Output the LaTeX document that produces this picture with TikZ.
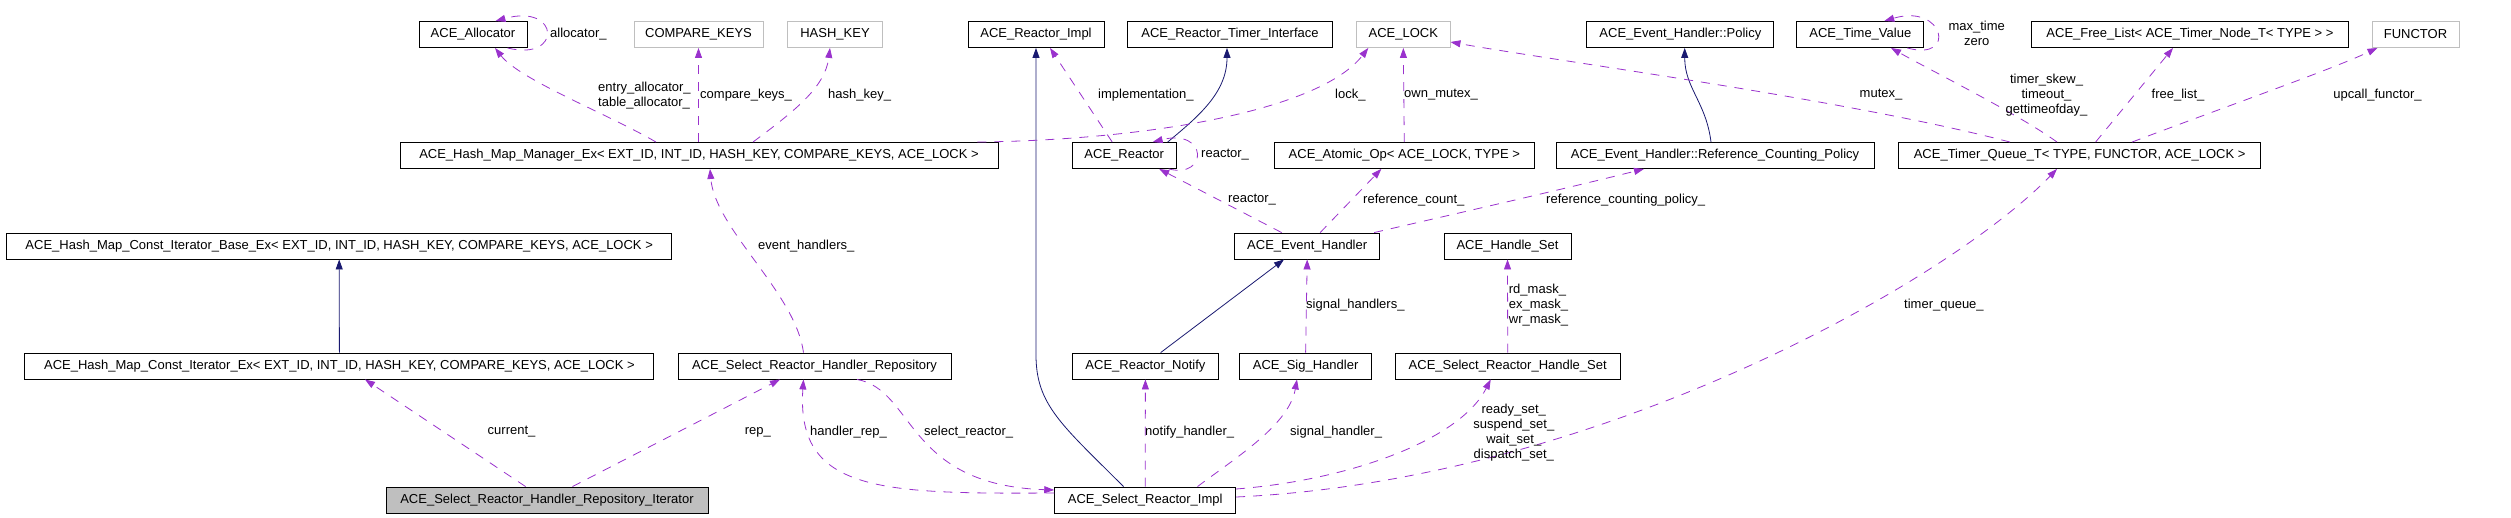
\documentclass[tikz,border=0pt]{standalone}
\usepackage{fontspec}
\setmainfont{Liberation Sans}
\usetikzlibrary{arrows.meta}
\definecolor{usecol}{HTML}{9A32CD}
\definecolor{inhcol}{HTML}{191970}
\definecolor{extcol}{HTML}{BFBFBF}
\tikzset{
	cls/.style={draw=black, line width=0.9pt, minimum height=26, inner sep=0pt, font=\fontsize{13}{15}\selectfont},
	ext/.style={cls, draw=extcol},
	cur/.style={cls, fill=extcol},
	usage/.style={draw=usecol, line width=0.8pt, dash pattern=on 9pt off 8pt, -{Triangle[length=10pt,width=7pt]}},
	inherit/.style={draw=inhcol, line width=0.8pt, -{Triangle[length=10pt,width=7pt]}},
	edgelbl/.style={inner sep=0pt, font=\fontsize{13}{15}\selectfont}
}

\begin{document}
\begin{tikzpicture}[x=1pt, y=-1pt]
			%%%%% START %%%%%
			\useasboundingbox (0,0) rectangle (2511,517);
			
			\node[cls, minimum width=108] (alloc) at (473,34.5) {ACE\_Allocator};
			\node[ext, minimum width=129] (cmpkeys) at (698.5,34.5) {COMPARE\_KEYS};
			\node[ext, minimum width=95] (hashkey) at (835,34.5) {HASH\_KEY};
			\node[cls, minimum width=136] (rimpl) at (1036,34.5) {ACE\_Reactor\_Impl};
			\node[cls, minimum width=205] (rtimer) at (1230,34.5) {ACE\_Reactor\_Timer\_Interface};
			\node[ext, minimum width=93.4] (lock) at (1403.3,34.5) {ACE\_LOCK};
			\node[cls, minimum width=187] (policy) at (1680.4,34.5) {ACE\_Event\_Handler::Policy};
			\node[cls, minimum width=127] (timeval) at (1860.3,34.5) {ACE\_Time\_Value};
			\node[cls, minimum width=316.5] (freelist) at (2190,34.5) {ACE\_Free\_List< ACE\_Timer\_Node\_T< TYPE > >};
			\node[ext, minimum width=87] (functor) at (2415.5,34.5) {FUNCTOR};
			
			\node[cls, minimum width=598] (hmm) at (699,155.5) {ACE\_Hash\_Map\_Manager\_Ex< EXT\_ID, INT\_ID, HASH\_KEY, COMPARE\_KEYS, ACE\_LOCK >};
			\node[cls, minimum width=104] (reactor) at (1124.2,155.5) {ACE\_Reactor};
			\node[cls, minimum width=259.5] (atomic) at (1404.3,155.5) {ACE\_Atomic\_Op< ACE\_LOCK, TYPE >};
			\node[cls, minimum width=318] (refpol) at (1715,155.5) {ACE\_Event\_Handler::Reference\_Counting\_Policy};
			\node[cls, minimum width=362] (tqueue) at (2079.6,155.5) {ACE\_Timer\_Queue\_T< TYPE, FUNCTOR, ACE\_LOCK >};
			
			\node[cls, minimum width=665] (itbase) at (339.2,246) {ACE\_Hash\_Map\_Const\_Iterator\_Base\_Ex< EXT\_ID, INT\_ID, HASH\_KEY, COMPARE\_KEYS, ACE\_LOCK >};
			\node[cls, minimum width=145] (evh) at (1307.2,246) {ACE\_Event\_Handler};
			\node[cls, minimum width=127] (hset) at (1507.5,246) {ACE\_Handle\_Set};
			
			\node[cls, minimum width=629] (itex) at (339.4,366) {ACE\_Hash\_Map\_Const\_Iterator\_Ex< EXT\_ID, INT\_ID, HASH\_KEY, COMPARE\_KEYS, ACE\_LOCK >};
			\node[cls, minimum width=273] (repo) at (814.5,366) {ACE\_Select\_Reactor\_Handler\_Repository};
			\node[cls, minimum width=146] (notify) at (1145.4,366) {ACE\_Reactor\_Notify};
			\node[cls, minimum width=131.6] (sig) at (1305.6,366) {ACE\_Sig\_Handler};
			\node[cls, minimum width=224.6] (shset) at (1507.7,366) {ACE\_Select\_Reactor\_Handle\_Set};
			
			\node[cur, minimum width=322] (iter) at (547,500) {ACE\_Select\_Reactor\_Handler\_Repository\_Iterator};
			\node[cls, minimum width=181] (impl) at (1145.2,500) {ACE\_Select\_Reactor\_Impl};
			
			\draw[inherit] (itex.north) -- (itbase.south);
			\draw[inherit] ([xshift=-21.7]impl.north) .. controls (1062,425) and (1036,405) .. (1036,355) -- (rimpl.south);
			\draw[inherit] ([xshift=-9]reactor.north east) .. controls +(30,-25) and +(0,45) .. ([xshift=-3]rtimer.south);
			\draw[inherit] ([xshift=15.3]notify.north) -- ([xshift=-23.2]evh.south);
			\draw[inherit] ([xshift=-4]refpol.north) .. controls +(-5,-40) and +(0,40) .. ([xshift=4.3]policy.south);
			
			\draw[usage] ([xshift=-21.4]iter.north) -- ([xshift=25.6]itex.south);
			\draw[usage] ([xshift=25.5]iter.north) -- ([xshift=-34.5]repo.south);
			\draw[usage] ([xshift=-11]repo.north) .. controls +(-8,-60) and +(5,60) .. ([xshift=11]hmm.south);
			\draw[usage] ([yshift=7]impl.west) .. controls (880,494) and (796,492) .. ([xshift=-11]repo.south);
			\draw[usage] ([xshift=42.5]repo.south) .. controls (915,390) and (905,485) .. ([yshift=10]impl.west);
			
			\draw[usage] ([xshift=-43]hmm.north) .. controls (610,115) and (520,80) .. ([xshift=22]alloc.south);
			\draw[usage] ([xshift=-20]alloc.south east) .. controls +(55,14) and +(65,-18) .. ([xshift=-32]alloc.north east);
			\draw[usage] (hmm.north -| cmpkeys) -- (cmpkeys.south);
			\draw[usage] ([xshift=54]hmm.north) .. controls +(40,-30) and +(-5,40) .. ([xshift=-5]hashkey.south);
			\draw[usage] ([xshift=-21]hmm.north east) .. controls (1150,140) and (1320,110) .. ([xshift=-35]lock.south);
			
			\draw[usage] ([xshift=-12]reactor.north) -- ([xshift=14]rimpl.south);
			\draw[usage] ([xshift=-8]reactor.south east) .. controls +(40,10) and +(55,-14) .. ([xshift=-24]reactor.north east);
			\draw[usage] (atomic.north) -- (lock.south);
			\draw[usage] ([xshift=-25.6]evh.north) -- ([xshift=35]reactor.south);
			\draw[usage] ([xshift=13]evh.north) -- ([xshift=-23]atomic.south);
			\draw[usage] ([xshift=-6]evh.north east) .. controls (1450,215) and (1560,190) .. ([xshift=-71]refpol.south);
			
			\draw[usage] ([xshift=-69.6]tqueue.north) .. controls (1850,100) and (1550,60) .. ([yshift=-7.5]lock.east);
			\draw[usage] ([xshift=-22.6]tqueue.north) .. controls (2020,115) and (1930,70) .. ([xshift=30.7]timeval.south);
			\draw[usage] ([xshift=-17]timeval.south east) .. controls +(50,14) and +(60,-18) .. ([xshift=-40]timeval.north east);
			\draw[usage] ([xshift=16]tqueue.north) -- ([xshift=-17]freelist.south);
			\draw[usage] ([xshift=52.4]tqueue.north) .. controls (2230,105) and (2330,70) .. ([xshift=-38]functor.south);
			
			\draw[usage] (shset.north) -- (hset.south);
			\draw[usage] (sig.north) -- (evh.south);
			\draw[usage] (impl.north) -- (notify.south);
			\draw[usage] ([xshift=52.3]impl.north) .. controls +(40,-30) and +(-8,45) .. ([xshift=-8.6]sig.south);
			\draw[usage] ([yshift=11]impl.east) .. controls (1350,480) and (1460,440) .. ([xshift=-17]shset.south);
			\draw[usage] ([yshift=3]impl.east) .. controls (1600,480) and (1950,280) .. ([xshift=-22.6]tqueue.south);
			
			\node[edgelbl, anchor=west] (lalloc) at (550,34) {allocator\_};
			\node[edgelbl, anchor=west, align=left] (lentry) at (598,95.5) {entry\_allocator\_\\table\_allocator\_};
			\node[edgelbl, anchor=west] (lcmp) at (700,95) {compare\_keys\_};
			\node[edgelbl, anchor=west] (lhash) at (828,95) {hash\_key\_};
			\node[edgelbl, anchor=west] (levh) at (758,246) {event\_handlers\_};
			\node[edgelbl, anchor=west] (lcur) at (487.5,432) {current\_};
			\node[edgelbl, anchor=west] (lrep) at (744.6,432) {rep\_};
			\node[edgelbl, anchor=west] (lhrep) at (810,432) {handler\_rep\_};
			\node[edgelbl, anchor=west] (lsel) at (924,432) {select\_reactor\_};
			\node[edgelbl, anchor=west] (limpl) at (1098,95) {implementation\_};
			\node[edgelbl, anchor=west] (llock) at (1335,95) {lock\_};
			\node[edgelbl, anchor=west] (lown) at (1404,95) {own\_mutex\_};
			\node[edgelbl, anchor=west] (lrself) at (1201,155) {reactor\_};
			\node[edgelbl, anchor=west] (lreac) at (1228,200) {reactor\_};
			\node[edgelbl, anchor=west] (lrefc) at (1363,200) {reference\_count\_};
			\node[edgelbl, anchor=west] (lrefp) at (1546,200) {reference\_counting\_policy\_};
			\node[edgelbl] (lmtx) at (1881,95) {mutex\_};
			\node[edgelbl, align=center] (ltime) at (2046.5,95) {timer\_skew\_\\timeout\_\\gettimeofday\_};
			\node[edgelbl, align=center] (ltv) at (1976.7,33.5) {max\_time\\zero};
			\node[edgelbl] (lfree) at (2178,95) {free\_list\_};
			\node[edgelbl] (lupc) at (2377.5,95) {upcall\_functor\_};
			\node[edgelbl, anchor=west] (lsigs) at (1306,305) {signal\_handlers\_};
			\node[edgelbl, anchor=west, align=left] (lmask) at (1508.7,305) {rd\_mask\_\\ex\_mask\_\\wr\_mask\_};
			\node[edgelbl, anchor=west] (lnot) at (1145,432) {notify\_handler\_};
			\node[edgelbl, anchor=west] (lsig) at (1290,432) {signal\_handler\_};
			\node[edgelbl, align=center] (lsets) at (1513.8,433) {ready\_set\_\\suspend\_set\_\\wait\_set\_\\dispatch\_set\_};
			\node[edgelbl, anchor=west] (ltq) at (1904,305) {timer\_queue\_};
			
			%%%%% END %%%%%
\end{tikzpicture}
\end{document}
